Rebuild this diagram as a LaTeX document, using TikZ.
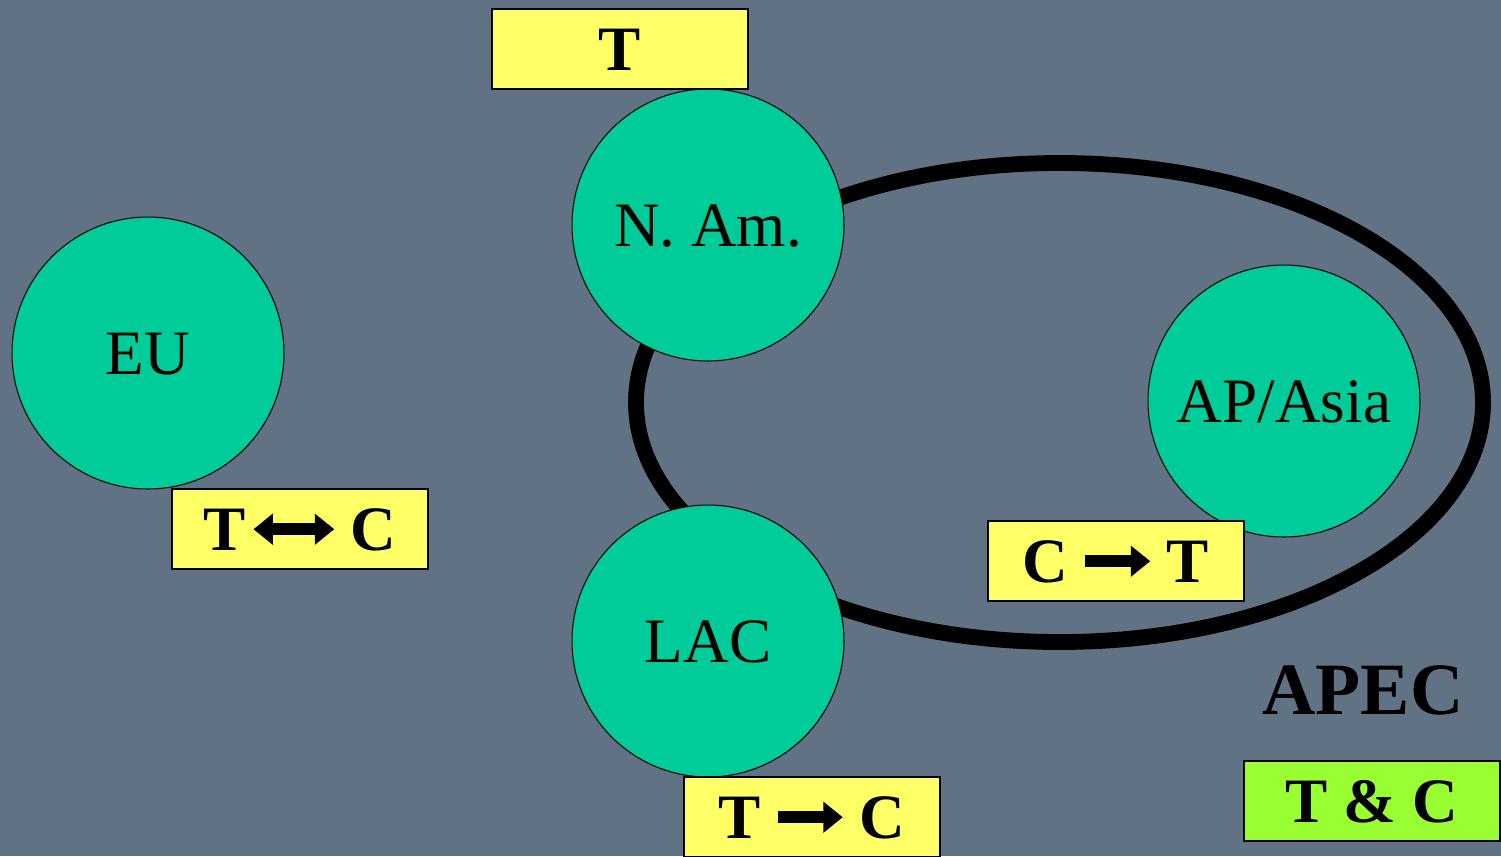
\documentclass[tikz,border=0pt]{standalone}
\usepackage{fontspec}
\setmainfont{Liberation Serif}
\usetikzlibrary{arrows.meta}

\definecolor{slide}{RGB}{98,114,133}
\definecolor{region}{RGB}{0,204,153}
\definecolor{tag}{RGB}{255,255,102}
\definecolor{apectag}{RGB}{153,255,51}

\tikzset{
  flowtip/.tip={Triangle[length=11pt, width=17pt]},
}

% block arrow set inside the tag texts
\newcommand{\flow}[2]{\tikz[baseline=-0.33em]\draw[line width=7pt, #1] (0,0) -- (#2,0);}

\begin{document}
\begin{tikzpicture}[
  x=0.02cm, y=-0.02cm,
  region/.style={circle, draw=black, line width=0.6pt, fill=region,
    minimum size=5.44cm, inner sep=0pt,
    font=\fontsize{36}{40}\selectfont, text height=24pt, text depth=0pt},
  tagbox/.style={draw=black, line width=1pt, fill=tag,
    minimum width=5.12cm, minimum height=1.6cm, inner sep=0pt,
    font=\fontsize{36}{40}\selectfont\bfseries, text height=24pt, text depth=0pt},
]
  \useasboundingbox (0,0) rectangle (1501,856);
  \fill[slide] (0,0) rectangle (1501,856);

  % APEC ring
  \draw[line width=9pt] (1059.5,402.5) ellipse[x radius=423.5, y radius=239.5];

  % regions
  \node[region] (eu)   at (148,353)  {EU};
  \node[region] (nam)  at (708,225)  {N. Am.};
  \node[region] (asia) at (1284,401) {AP/Asia};
  \node[region] (lac)  at (708,641)  {LAC};

  % tags
  \node[tagbox] (namtag)  at (620,49)   {T};
  \node[tagbox] (eutag)   at (300,529)  {T\hspace{1pt}\flow{flowtip-flowtip}{46pt}\hspace{6pt}C};
  \node[tagbox] (asiatag) at (1116,561) {C\hspace{6pt}\flow{-flowtip}{37pt}\hspace{6pt}T};
  \node[tagbox] (lactag)  at (812,817)  {T\hspace{6pt}\flow{-flowtip}{37pt}\hspace{6pt}C};
  \node[tagbox, fill=apectag] (apectag) at (1372,801) {T \& C};

  \node[font=\fontsize{42}{46}\selectfont\bfseries, text height=28pt, text depth=0pt,
    inner sep=0pt] (apec) at (1363,690) {APEC};
\end{tikzpicture}
\end{document}
